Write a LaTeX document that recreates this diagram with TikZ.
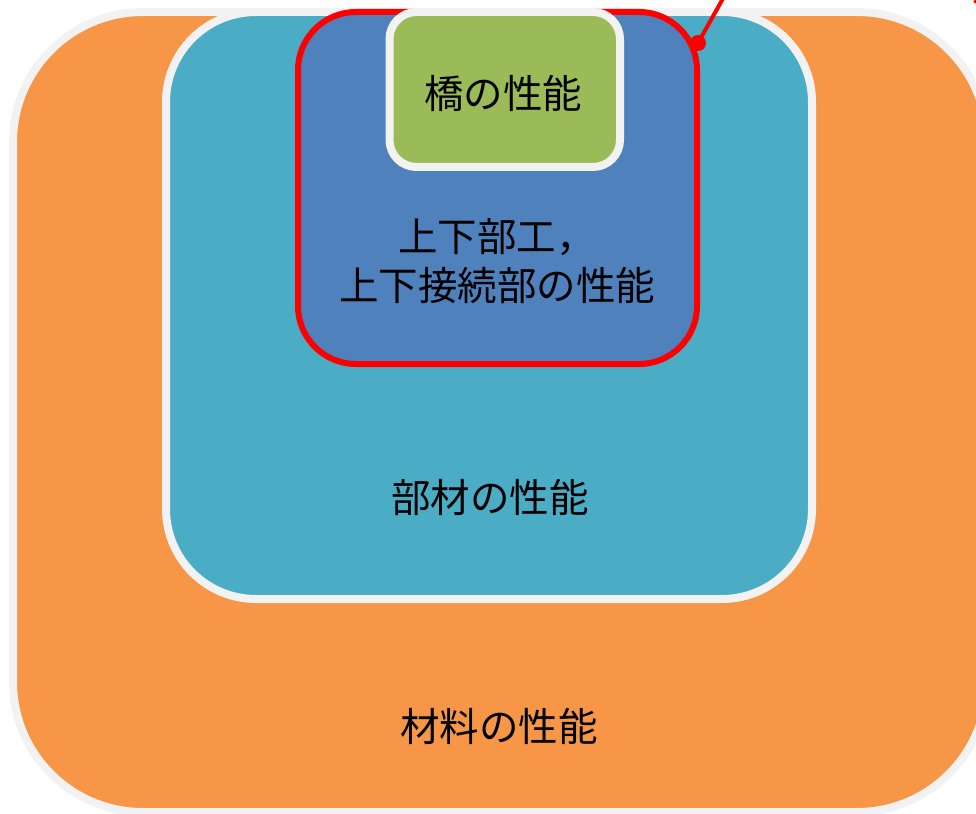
\documentclass[tikz,border=0pt]{standalone}
\usepackage{fontspec}
\newfontfamily\cjk{Noto Sans CJK JP}
\definecolor{orangefill}{HTML}{F79646}
\definecolor{tealfill}{HTML}{4BACC6}
\definecolor{bluefill}{HTML}{4F81BD}
\definecolor{greenfill}{HTML}{9BBB59}
\definecolor{rimgrey}{HTML}{F2F2F2}
\definecolor{linered}{HTML}{FF0000}
\tikzset{
  panel/.style={draw=rimgrey, line width=8pt},
  label/.style={font=\cjk\fontsize{39.5}{49}\selectfont, text=black, align=center, inner sep=0pt},
  redline/.style={draw=linered, line width=4pt}
}
\begin{document}
\begin{tikzpicture}[x=1pt,y=-1pt]
\useasboundingbox (0,0) rectangle (976,813);
\clip (0,0) rectangle (976,813);
% outer: material
\path[panel, fill=orangefill, rounded corners=130pt] (13,12) rectangle (987,812);
% member
\path[panel, fill=tealfill, rounded corners=90pt] (166,12) rectangle (812,599);
% sub/superstructure (highlighted)
\path[fill=bluefill, draw=linered, line width=6pt, rounded corners=58pt] (298,12) rectangle (697,364);
% bridge
\path[panel, fill=greenfill, rounded corners=27pt] (389.5,12) rectangle (620,167);
% labels
\node[label] (bridge) at (503,93) {橋の性能};
\node[label] (sub) at (497,261) {上下部工，\\上下接続部の性能};
\node[label] (member) at (490,497) {部材の性能};
\node[label] (material) at (499,726) {材料の性能};
% callout line
\coordinate (dot) at (698,43);
\coordinate (lineend) at (730,-14);
\draw[redline] (dot) -- (lineend);
\fill[linered] (dot) circle (8pt);
\coordinate (othera) at (975,3);
\coordinate (otherb) at (980,-6);
\draw[redline] (othera) -- (otherb);
\end{tikzpicture}
\end{document}
